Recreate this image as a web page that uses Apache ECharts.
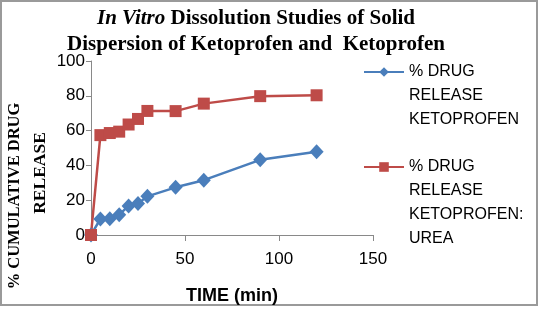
<!DOCTYPE html>
<html>
<head>
<meta charset="utf-8">
<script src="https://cdn.jsdelivr.net/npm/echarts@6/dist/echarts.min.js"></script>
<style>
  html, body { margin: 0; padding: 0; background: #fff; }
  #chart { width: 539px; height: 310px; }
</style>
</head>
<body>
<div id="chart"></div>
<script>
// time points (min)
const timeMin = [0, 5, 10, 15, 20, 25, 30, 45, 60, 90, 120];
// % cumulative drug release
const releaseKetoprofen = [0, 9.2, 9.4, 11.7, 16.7, 18.1, 22.2, 27.4, 31.5, 43.2, 47.9];
const releaseKetoUrea = [0, 57.4, 58.6, 59.4, 63.5, 66.7, 71.3, 71.2, 75.5, 79.8, 80.3];
const seriesNames = [
  "% DRUG\nRELEASE\nKETOPROFEN",
  "% DRUG\nRELEASE\nKETOPROFEN:\nUREA",
];

const chart = echarts.init(document.getElementById("chart"));

const toPairs = (xs, ys) => xs.map((x, i) => [x, ys[i]]);

const axisGrey = "#898989";
const labelFont = "Liberation Sans";

// legend text is centred on its icon, so pad with leading blank lines
// to put the icon beside the first line
const padTop = (name) => "\n".repeat(name.split("\n").length - 1) + name;

const legendBase = {
  orient: "vertical",
  left: 358,
  itemWidth: 40,
  itemHeight: 12,
  selectedMode: false,
  formatter: padTop,
  textStyle: {
    fontFamily: labelFont,
    fontSize: 16,
    lineHeight: 24,
    color: "#000",
  },
};

const option = {
  animation: false,
  backgroundColor: "#fff",
  title: {
    text: "{i|In Vitro} Dissolution Studies of Solid\nDispersion of Ketoprofen and  Ketoprofen",
    left: 251,
    top: 1,
    textAlign: "center",
    textStyle: {
      fontFamily: "Liberation Serif",
      fontWeight: "bold",
      fontSize: 21,
      lineHeight: 26,
      color: "#000",
      rich: {
        i: {
          fontFamily: "Liberation Serif",
          fontWeight: "bold",
          fontStyle: "italic",
          fontSize: 21,
          lineHeight: 26,
          color: "#000",
        },
      },
    },
  },
  legend: [
    Object.assign({}, legendBase, { top: 7, data: [seriesNames[0]] }),
    Object.assign({}, legendBase, { top: 78, data: [seriesNames[1]] }),
  ],
  grid: { left: 91, right: 166, top: 61, bottom: 71 },
  xAxis: {
    type: "value",
    min: 0,
    max: 150,
    interval: 50,
    name: "TIME (min)",
    nameLocation: "middle",
    nameGap: 52,
    nameTextStyle: {
      fontFamily: labelFont,
      fontWeight: "bold",
      fontSize: 18,
      color: "#000",
    },
    axisLine: { lineStyle: { color: axisGrey, width: 1 } },
    axisTick: { show: true, length: 6, lineStyle: { color: axisGrey } },
    axisLabel: { fontFamily: labelFont, fontSize: 17, color: "#000", margin: 16 },
    splitLine: { show: false },
  },
  yAxis: {
    type: "value",
    min: 0,
    max: 100,
    interval: 20,
    axisLine: { show: true, lineStyle: { color: axisGrey, width: 1 } },
    axisTick: { show: true, length: 5, lineStyle: { color: axisGrey } },
    axisLabel: { fontFamily: labelFont, fontSize: 17, color: "#000", margin: 6 },
    splitLine: { show: false },
  },
  graphic: [
    {
      type: "rect",
      silent: true,
      shape: { x: 1, y: 1, width: 536, height: 304 },
      style: { fill: "none", stroke: "#9a9a9a", lineWidth: 2 },
    },
    {
      type: "text",
      x: 15,
      y: 196,
      rotation: Math.PI / 2,
      style: {
        text: "% CUMULATIVE DRUG",
        fontFamily: "Liberation Serif",
        fontWeight: "bold",
        fontSize: 16.5,
        fill: "#000",
        align: "center",
        verticalAlign: "middle",
      },
    },
    {
      type: "text",
      x: 40,
      y: 173,
      rotation: Math.PI / 2,
      style: {
        text: "RELEASE",
        fontFamily: "Liberation Serif",
        fontWeight: "bold",
        fontSize: 17.5,
        fill: "#000",
        align: "center",
        verticalAlign: "middle",
      },
    },
  ],
  series: [
    {
      name: seriesNames[0],
      type: "line",
      data: toPairs(timeMin, releaseKetoprofen),
      symbol: "diamond",
      symbolSize: [14, 15],
      lineStyle: { color: "#4a7ebb", width: 2.5 },
      itemStyle: { color: "#4a7ebb" },
    },
    {
      name: seriesNames[1],
      type: "line",
      data: toPairs(timeMin, releaseKetoUrea),
      symbol: "rect",
      symbolSize: 12,
      lineStyle: { color: "#be4b48", width: 2.5 },
      itemStyle: { color: "#be4b48" },
    },
  ],
};

chart.setOption(option);
window.addEventListener("resize", () => chart.resize());
</script>
</body>
</html>
